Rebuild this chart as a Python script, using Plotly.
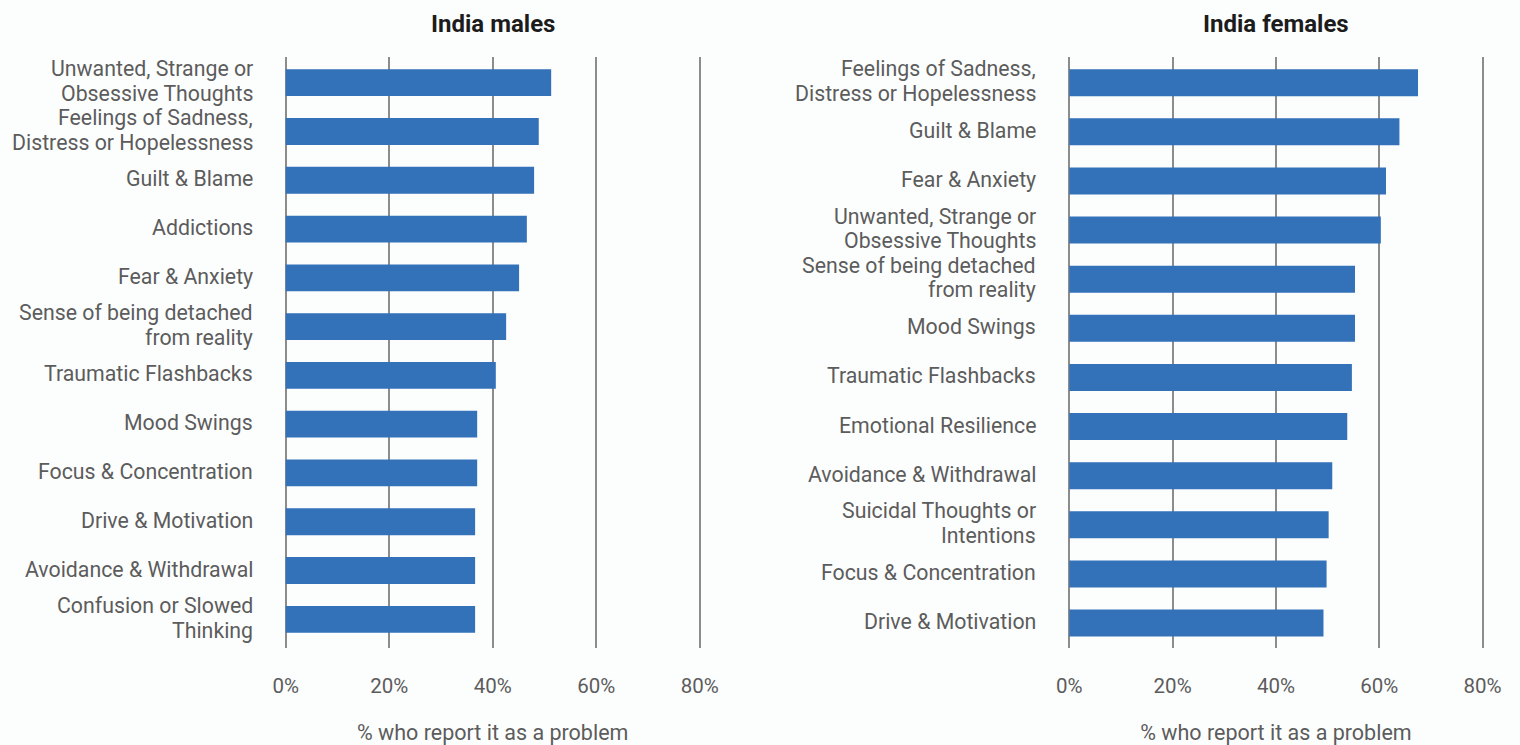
import plotly.graph_objects as go

males_labels = [
    "Unwanted, Strange or<br>Obsessive Thoughts",
    "Feelings of Sadness,<br>Distress or Hopelessness",
    "Guilt & Blame",
    "Addictions",
    "Fear & Anxiety",
    "Sense of being detached<br>from reality",
    "Traumatic Flashbacks",
    "Mood Swings",
    "Focus & Concentration",
    "Drive & Motivation",
    "Avoidance & Withdrawal",
    "Confusion or Slowed<br>Thinking",
]
males_values = [51.3, 48.9, 48.0, 46.6, 45.1, 42.6, 40.6, 37.0, 37.0, 36.6, 36.6, 36.6]

females_labels = [
    "Feelings of Sadness,<br>Distress or Hopelessness",
    "Guilt & Blame",
    "Fear & Anxiety",
    "Unwanted, Strange or<br>Obsessive Thoughts",
    "Sense of being detached<br>from reality",
    "Mood Swings",
    "Traumatic Flashbacks",
    "Emotional Resilience",
    "Avoidance & Withdrawal",
    "Suicidal Thoughts or<br>Intentions",
    "Focus & Concentration",
    "Drive & Motivation",
]
females_values = [67.5, 63.9, 61.3, 60.3, 55.3, 55.3, 54.7, 53.8, 50.9, 50.2, 49.8, 49.2]

titles = ["India males", "India females"]
x_title = "% who report it as a problem"
tick_vals = [0, 20, 40, 60, 80]
tick_text = ["0%", "20%", "40%", "60%", "80%"]

BAR = "#3371b8"
LABEL = "#5c5c5c"
GRID = "#8c8c8c"
FONT = "Roboto"
LABEL_SIZE = 21.3
LINE_SPACING = 24.6

# figure fills the whole window (page margin removed below)
OFF = 0
W, H = 1520, 745

def fx(px):
    return (px - OFF) / W

def fy(py):
    return 1 - (py - OFF) / H

fig = go.Figure()
fig.add_trace(go.Bar(x=males_values, y=males_labels, orientation="h",
                     marker=dict(color=BAR, line=dict(width=0)),
                     xaxis="x", yaxis="y", showlegend=False, hoverinfo="x+y"))
fig.add_trace(go.Bar(x=females_values, y=females_labels, orientation="h",
                     marker=dict(color=BAR, line=dict(width=0)),
                     xaxis="x2", yaxis="y2", showlegend=False, hoverinfo="x+y"))

PAD = 0.4
ydom = [fy(647.6), fy(57.4)]

def xdom(x0, x80):
    s = (x80 - x0) / 80
    return [fx(x0 - PAD * s), fx(x80 + PAD * s)]

def xaxis(dom, anchor):
    return dict(domain=dom, anchor=anchor, range=[-PAD, 80 + PAD], tickvals=tick_vals, ticktext=tick_text,
                showgrid=True, gridcolor=GRID, gridwidth=1.5, zeroline=False,
                showline=False, ticks="", ticklabelstandoff=24, automargin=False,
                tickfont=dict(family=FONT, size=20.5, color=LABEL),
                title=dict(text=x_title, standoff=29, font=dict(family=FONT, size=21.5, color=LABEL)),
                fixedrange=True)

def yaxis(anchor):
    return dict(domain=ydom, anchor=anchor, autorange="reversed", showgrid=False,
                zeroline=False, showline=False, ticks="", showticklabels=False,
                automargin=False, fixedrange=True)

fig.update_layout(
    width=W, height=H,
    margin=dict(l=0, r=0, t=0, b=0, autoexpand=False),
    paper_bgcolor="#fcfefe", plot_bgcolor="#fcfefe",
    bargap=0.45,
    xaxis=xaxis(xdom(285.7, 699.7), "y"),
    yaxis=yaxis("x"),
    xaxis2=xaxis(xdom(1069.3, 1482.6), "y2"),
    yaxis2=yaxis("x2"),
    font=dict(family=FONT),
    hoverlabel=dict(font=dict(family=FONT)),
)

# category labels, one annotation per text line so line spacing matches
for labels, xr, yr in [(males_labels, "x domain", "y"), (females_labels, "x2 domain", "y2")]:
    for lab in labels:
        lines = lab.split("<br>")
        n = len(lines)
        for k, line in enumerate(lines):
            shift = ((n - 1) / 2 - k) * LINE_SPACING + 1.5
            fig.add_annotation(text=line, x=PAD / (80 + 2 * PAD), xref=xr, y=lab, yref=yr,
                               xanchor="right", yanchor="middle", xshift=-31, yshift=shift,
                               showarrow=False, align="right",
                               font=dict(family=FONT, size=LABEL_SIZE, color=LABEL))

for t, cx in zip(titles, [492.7, 1276.0]):
    fig.add_annotation(text="<b>%s</b>" % t, x=fx(cx), y=fy(24), xref="paper", yref="paper",
                       xanchor="center", yanchor="middle", showarrow=False,
                       font=dict(family=FONT, size=24, color="#1c1c1c"))

fig.write_html(
    "out.html",
    config={"displayModeBar": False},
    post_script="document.body.style.margin='0px';document.body.style.overflow='hidden';"
                "document.body.style.background='#fcfefe';",
)
